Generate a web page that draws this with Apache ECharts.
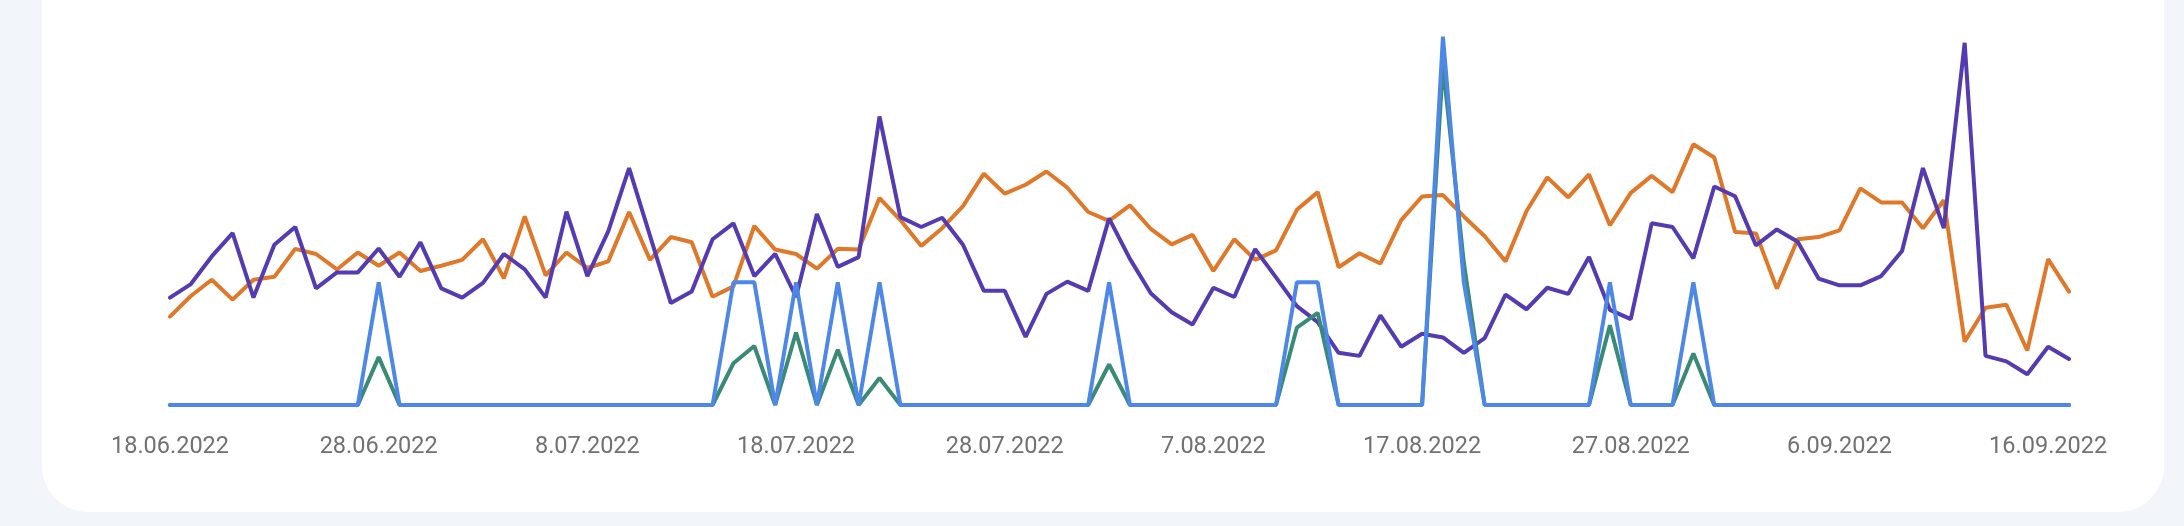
<!DOCTYPE html>
<html>
<head>
<meta charset="utf-8">
<script src="https://cdn.jsdelivr.net/npm/echarts@6/dist/echarts.min.js"></script>
<style>
  html, body { margin: 0; padding: 0; width: 2184px; height: 526px; background: #f2f5fa; overflow: hidden; }
  #card { position: absolute; left: 42px; top: -60px; width: 2122px; height: 572px; background: #ffffff; border-radius: 46px; }
  #chart { position: absolute; left: 0; top: 0; width: 2184px; height: 526px; }
</style>
</head>
<body>
<div id="card"></div>
<div id="chart"></div>
<script>
const categories = [
  '18.06.2022','19.06.2022','20.06.2022','21.06.2022','22.06.2022','23.06.2022','24.06.2022','25.06.2022','26.06.2022','27.06.2022',
  '28.06.2022','29.06.2022','30.06.2022','1.07.2022','2.07.2022','3.07.2022','4.07.2022','5.07.2022','6.07.2022','7.07.2022',
  '8.07.2022','9.07.2022','10.07.2022','11.07.2022','12.07.2022','13.07.2022','14.07.2022','15.07.2022','16.07.2022','17.07.2022',
  '18.07.2022','19.07.2022','20.07.2022','21.07.2022','22.07.2022','23.07.2022','24.07.2022','25.07.2022','26.07.2022','27.07.2022',
  '28.07.2022','29.07.2022','30.07.2022','31.07.2022','1.08.2022','2.08.2022','3.08.2022','4.08.2022','5.08.2022','6.08.2022',
  '7.08.2022','8.08.2022','9.08.2022','10.08.2022','11.08.2022','12.08.2022','13.08.2022','14.08.2022','15.08.2022','16.08.2022',
  '17.08.2022','18.08.2022','19.08.2022','20.08.2022','21.08.2022','22.08.2022','23.08.2022','24.08.2022','25.08.2022','26.08.2022',
  '27.08.2022','28.08.2022','29.08.2022','30.08.2022','31.08.2022','1.09.2022','2.09.2022','3.09.2022','4.09.2022','5.09.2022',
  '6.09.2022','7.09.2022','8.09.2022','9.09.2022','10.09.2022','11.09.2022','12.09.2022','13.09.2022','14.09.2022','15.09.2022',
  '16.09.2022','17.09.2022'
];

// Clicks
const clicks = [
  0,0,0,0,0,0,0,0,0,0, 1,0,0,0,0,0,0,0,0,0,
  0,0,0,0,0,0,0,1,1,0, 1,0,1,0,1,0,0,0,0,0,
  0,0,0,0,0,1,0,0,0,0, 0,0,0,0,1,1,0,0,0,0,
  0,3,1,0,0,0,0,0,0,1, 0,0,0,1,0,0,0,0,0,0,
  0,0,0,0,0,0,0,0,0,0, 0,0
];

// Impressions
const impressions = [
  17.5,19.7,24.2,28.0,17.5,26.1,29.0,19.0,21.6,21.6,
  25.5,20.9,26.5,19.0,17.5,19.9,24.6,22.1,17.5,31.5,
  21.0,28.3,38.6,27.6,16.6,18.5,27.0,29.6,21.0,24.6,
  17.6,31.1,22.5,24.1,47.0,30.6,29.0,30.5,26.1,18.6,
  18.6,11.1,18.1,20.1,18.6,30.4,23.8,18.2,15.1,13.1,
  19.1,17.6,25.4,20.8,16.1,13.5,8.5,8.0,14.6,9.5,
  11.6,11.0,8.5,10.9,18.0,15.6,19.1,18.1,24.1,15.5,
  14.0,29.6,29.0,23.9,35.6,34.0,26.0,28.6,26.6,20.6,
  19.5,19.5,21.0,25.1,38.6,28.8,59.0,8.0,7.1,5.0,
  9.5,7.5
];

// CTR, %
const ctr = [
  0,0,0,0,0,0,0,0,0,0, 3.9,0,0,0,0,0,0,0,0,0,
  0,0,0,0,0,0,0,3.4,4.8,0, 5.9,0,4.5,0,2.2,0,0,0,0,0,
  0,0,0,0,0,3.3,0,0,0,0, 0,0,0,0,6.3,7.5,0,0,0,0,
  0,27.7,11.6,0,0,0,0,0,0,6.5, 0,0,0,4.2,0,0,0,0,0,0,
  0,0,0,0,0,0,0,0,0,0, 0,0
];

// Average position
const position = [
  38.0,35.2,33.0,35.7,33.0,32.6,28.8,29.5,31.6,29.3,
  31.1,29.3,31.8,31.1,30.3,27.5,32.8,24.4,32.4,29.3,
  31.4,30.5,23.8,30.3,27.2,27.9,35.3,33.9,25.7,28.9,
  29.5,31.5,28.8,28.9,21.9,24.9,28.4,26.0,23.0,18.6,
  21.3,20.1,18.3,20.5,23.8,25.0,22.9,26.1,28.2,26.9,
  31.8,27.5,30.3,29.0,23.5,21.1,31.3,29.4,30.8,24.9,
  21.7,21.5,24.4,27.1,30.5,23.7,19.1,21.8,18.7,25.6,
  21.2,18.9,21.1,14.6,16.4,26.5,26.7,34.2,27.5,27.2,
  26.3,20.6,22.5,22.5,26.0,22.2,41.4,36.8,36.4,42.6,
  30.2,34.6
];

const chart = echarts.init(document.getElementById('chart'), null, { renderer: 'canvas' });
const lw = 4;
chart.setOption({
  backgroundColor: 'transparent',
  animation: false,
  grid: { left: 170, right: 115, top: 36.7, bottom: 121, containLabel: false },
  xAxis: {
    type: 'category',
    data: categories,
    boundaryGap: false,
    axisLine: { show: false },
    axisTick: { show: false },
    splitLine: { show: false },
    axisLabel: {
      interval: 9,
      color: '#717171',
      fontFamily: 'Roboto',
      fontSize: 23.5,
      margin: 30
    }
  },
  yAxis: [
    { type: 'value', min: 0, max: 3, show: false },
    { type: 'value', min: 0, max: 60, show: false },
    { type: 'value', min: 0, max: 30, show: false },
    { type: 'value', min: 0, max: 50, inverse: true, show: false }
  ],
  series: [
    { name: 'Position', type: 'line', yAxisIndex: 3, data: position, symbol: 'none',
      lineStyle: { color: '#e0782a', width: lw, cap: 'round' }, z: 1 },
    { name: 'Impressions', type: 'line', yAxisIndex: 1, data: impressions, symbol: 'none',
      lineStyle: { color: '#553bb1', width: lw, cap: 'round' }, z: 2 },
    { name: 'CTR', type: 'line', yAxisIndex: 2, data: ctr, symbol: 'none',
      lineStyle: { color: '#3a8a78', width: lw, cap: 'round' }, z: 3 },
    { name: 'Clicks', type: 'line', yAxisIndex: 0, data: clicks, symbol: 'none',
      lineStyle: { color: '#4d88e8', width: lw, cap: 'round' }, z: 4 }
  ]
});
</script>
</body>
</html>
